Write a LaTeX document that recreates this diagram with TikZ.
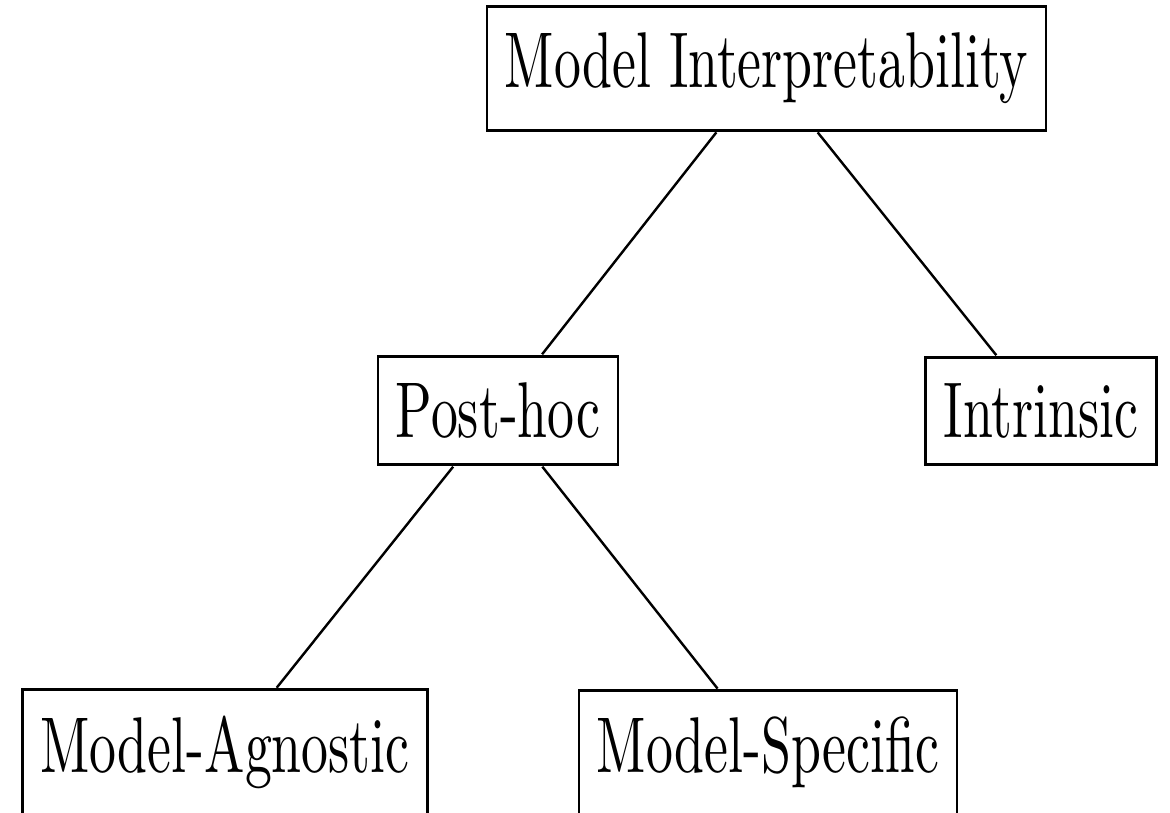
\documentclass[tikz,border=0pt]{standalone}
\begin{document}
\tikzset{
  termbox/.style={draw, line width=0.5pt, inner sep=3.333pt, yscale=1.47,
                  font=\fontsize{10}{12}\selectfont},
  branch/.style={line width=0.45pt}
}
\begin{tikzpicture}[x=0.1859pt, y=-0.1859pt]
  \useasboundingbox (0,0) rectangle (1170,813);
  \clip (0,0) rectangle (1170,813);

  % tree of interpretability methods
  \node[termbox] (root)     at (766.5,68.5)  {Model Interpretability};
  \node[termbox] (posthoc)  at (498,410.5)   {Post-hoc};
  \node[termbox] (intrin)   at (1041,411)    {Intrinsic};
  \node[termbox] (agnostic) at (225,752.5)   {Model-Agnostic};
  \node[termbox] (specific) at (768,752.5)   {Model-Specific};

  \draw[branch] (root) -- (posthoc);
  \draw[branch] (root) -- (intrin);
  \draw[branch] (posthoc) -- (agnostic);
  \draw[branch] (posthoc) -- (specific);
\end{tikzpicture}
\end{document}
